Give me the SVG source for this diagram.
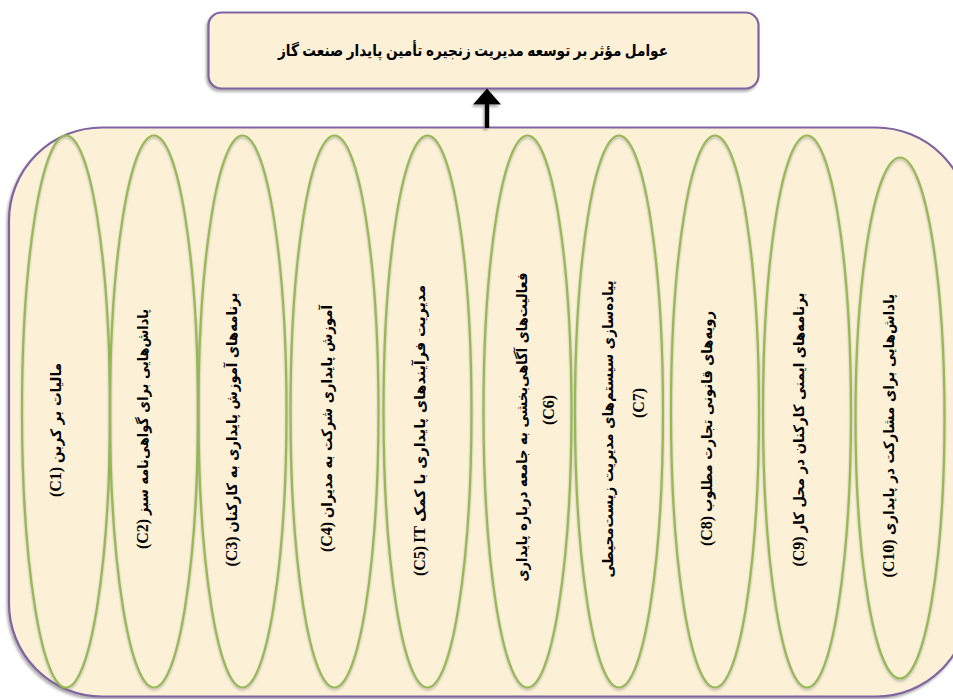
<svg xmlns="http://www.w3.org/2000/svg" width="953" height="699" viewBox="0 0 953 699">
<defs>
<style>
.box{fill:#fcf0d7;stroke:#8064a2;stroke-width:2.2;}
.ell{fill:none;stroke:#96ba52;stroke-width:2.2;}
.a{font-family:"DejaVu Sans",sans-serif;font-weight:bold;font-size:14.5px;fill:#000;}
.l{font-family:"Liberation Serif",serif;font-weight:bold;font-size:16px;fill:#000;}
.tt{font-family:"Liberation Serif","DejaVu Sans",serif;font-weight:bold;font-size:16px;fill:#000;}
</style>
<filter id="sh" x="-10%" y="-10%" width="120%" height="120%">
<feDropShadow dx="-1.5" dy="2.5" stdDeviation="1" flood-color="#808080" flood-opacity="0.6"/>
</filter>
<filter id="she" x="-20%" y="-10%" width="140%" height="120%">
<feDropShadow dx="0" dy="2" stdDeviation="1" flood-color="#808080" flood-opacity="0.5"/>
</filter>
</defs>
<rect width="953" height="699" fill="#ffffff"/>

<g id="goal">
<rect class="box" x="208.5" y="12.5" width="550" height="76" rx="13" filter="url(#sh)"/>
<text class="tt" x="473" y="50" dy="0.35em" text-anchor="middle" direction="rtl" textLength="390" lengthAdjust="spacingAndGlyphs">عوامل مؤثر بر توسعه مدیریت زنجیره تأمین پایدار صنعت گاز</text>
</g>

<g id="container">
<rect class="box" x="9" y="127.5" width="960" height="569" rx="93" filter="url(#sh)"/>
</g>

<g id="connectors">
<g filter="url(#sh)">
<line x1="487" y1="128" x2="487" y2="103" stroke="#000" stroke-width="4.5"/>
<polygon points="473,104.5 501,104.5 487,88.5" fill="#000"/>
</g>
</g>

<g id="C1"><ellipse class="ell" cx="66" cy="411.5" rx="44" ry="276" filter="url(#she)"/>
<text class="a" transform="translate(57.5,413) rotate(-90)" dy="0.25em" text-anchor="middle" direction="rtl" textLength="100" lengthAdjust="spacingAndGlyphs">مالیات بر کربن</text>
<text class="l" transform="translate(57.5,482) rotate(-90)" dy="0.24em" text-anchor="middle">(C1)</text></g>

<g id="C2"><ellipse class="ell" cx="154" cy="411.5" rx="44" ry="276" filter="url(#she)"/>
<text class="a" transform="translate(144,412) rotate(-90)" dy="0.25em" text-anchor="middle" direction="rtl" textLength="206" lengthAdjust="spacingAndGlyphs">پاداش‌هایی برای گواهی‌نامه سبز</text>
<text class="l" transform="translate(144,534) rotate(-90)" dy="0.24em" text-anchor="middle">(C2)</text></g>

<g id="C3"><ellipse class="ell" cx="242.5" cy="411.5" rx="44" ry="276" filter="url(#she)"/>
<text class="a" transform="translate(233.5,412.5) rotate(-90)" dy="0.25em" text-anchor="middle" direction="rtl" textLength="240" lengthAdjust="spacingAndGlyphs">برنامه‌های آموزش پایداری به کارکنان</text>
<text class="l" transform="translate(233.5,551.5) rotate(-90)" dy="0.24em" text-anchor="middle">(C3)</text></g>

<g id="C4"><ellipse class="ell" cx="334.5" cy="411.5" rx="44" ry="276" filter="url(#she)"/>
<text class="a" transform="translate(328.5,411.5) rotate(-90)" dy="0.25em" text-anchor="middle" direction="rtl" textLength="213" lengthAdjust="spacingAndGlyphs">آموزش پایداری شرکت به مدیران</text>
<text class="l" transform="translate(328.5,537) rotate(-90)" dy="0.24em" text-anchor="middle">(C4)</text></g>

<g id="C5"><ellipse class="ell" cx="427.5" cy="411.5" rx="44" ry="276" filter="url(#she)"/>
<text class="a" transform="translate(421.5,403.5) rotate(-90)" dy="0.25em" text-anchor="middle" direction="rtl" textLength="237" lengthAdjust="spacingAndGlyphs">مدیریت فرآیندهای پایداری با کمک</text>
<text class="l" transform="translate(421.5,534.5) rotate(-90)" dy="0.24em" text-anchor="middle">IT</text>
<text class="l" transform="translate(421.5,561) rotate(-90)" dy="0.24em" text-anchor="middle">(C5)</text></g>

<g id="C6"><ellipse class="ell" cx="527.5" cy="411.5" rx="44" ry="276" filter="url(#she)"/>
<text class="a" transform="translate(523,427) rotate(-90)" dy="0.25em" text-anchor="middle" direction="rtl" textLength="309" lengthAdjust="spacingAndGlyphs">فعالیت‌های آگاهی‌بخشی به جامعه درباره پایداری</text>
<text class="l" transform="translate(550,410) rotate(-90)" dy="0.24em" text-anchor="middle">(C6)</text></g>

<g id="C7"><ellipse class="ell" cx="619" cy="411.5" rx="44" ry="276" filter="url(#she)"/>
<text class="a" transform="translate(609.5,429) rotate(-90)" dy="0.25em" text-anchor="middle" direction="rtl" textLength="297" lengthAdjust="spacingAndGlyphs">پیاده‌سازی سیستم‌های مدیریت زیست‌محیطی</text>
<text class="l" transform="translate(640,403) rotate(-90)" dy="0.24em" text-anchor="middle">(C7)</text></g>

<g id="C8"><ellipse class="ell" cx="715" cy="411.5" rx="44" ry="276" filter="url(#she)"/>
<text class="a" transform="translate(708.5,411.5) rotate(-90)" dy="0.25em" text-anchor="middle" direction="rtl" textLength="201" lengthAdjust="spacingAndGlyphs">رویه‌های قانونی تجارت مطلوب</text>
<text class="l" transform="translate(708.5,531) rotate(-90)" dy="0.24em" text-anchor="middle">(C8)</text></g>

<g id="C9"><ellipse class="ell" cx="807" cy="411.5" rx="44" ry="276" filter="url(#she)"/>
<text class="a" transform="translate(800,412.5) rotate(-90)" dy="0.25em" text-anchor="middle" direction="rtl" textLength="240" lengthAdjust="spacingAndGlyphs">برنامه‌های ایمنی کارکنان در محل کار</text>
<text class="l" transform="translate(800,551.5) rotate(-90)" dy="0.24em" text-anchor="middle">(C9)</text></g>

<g id="C10"><ellipse class="ell" cx="900" cy="418" rx="44.5" ry="260.5" filter="url(#she)"/>
<text class="a" transform="translate(890,414.5) rotate(-90)" dy="0.25em" text-anchor="middle" direction="rtl" textLength="241" lengthAdjust="spacingAndGlyphs">پاداش‌هایی برای مشارکت در پایداری</text>
<text class="l" transform="translate(890,558.5) rotate(-90)" dy="0.24em" text-anchor="middle">(C10)</text></g>
</svg>
